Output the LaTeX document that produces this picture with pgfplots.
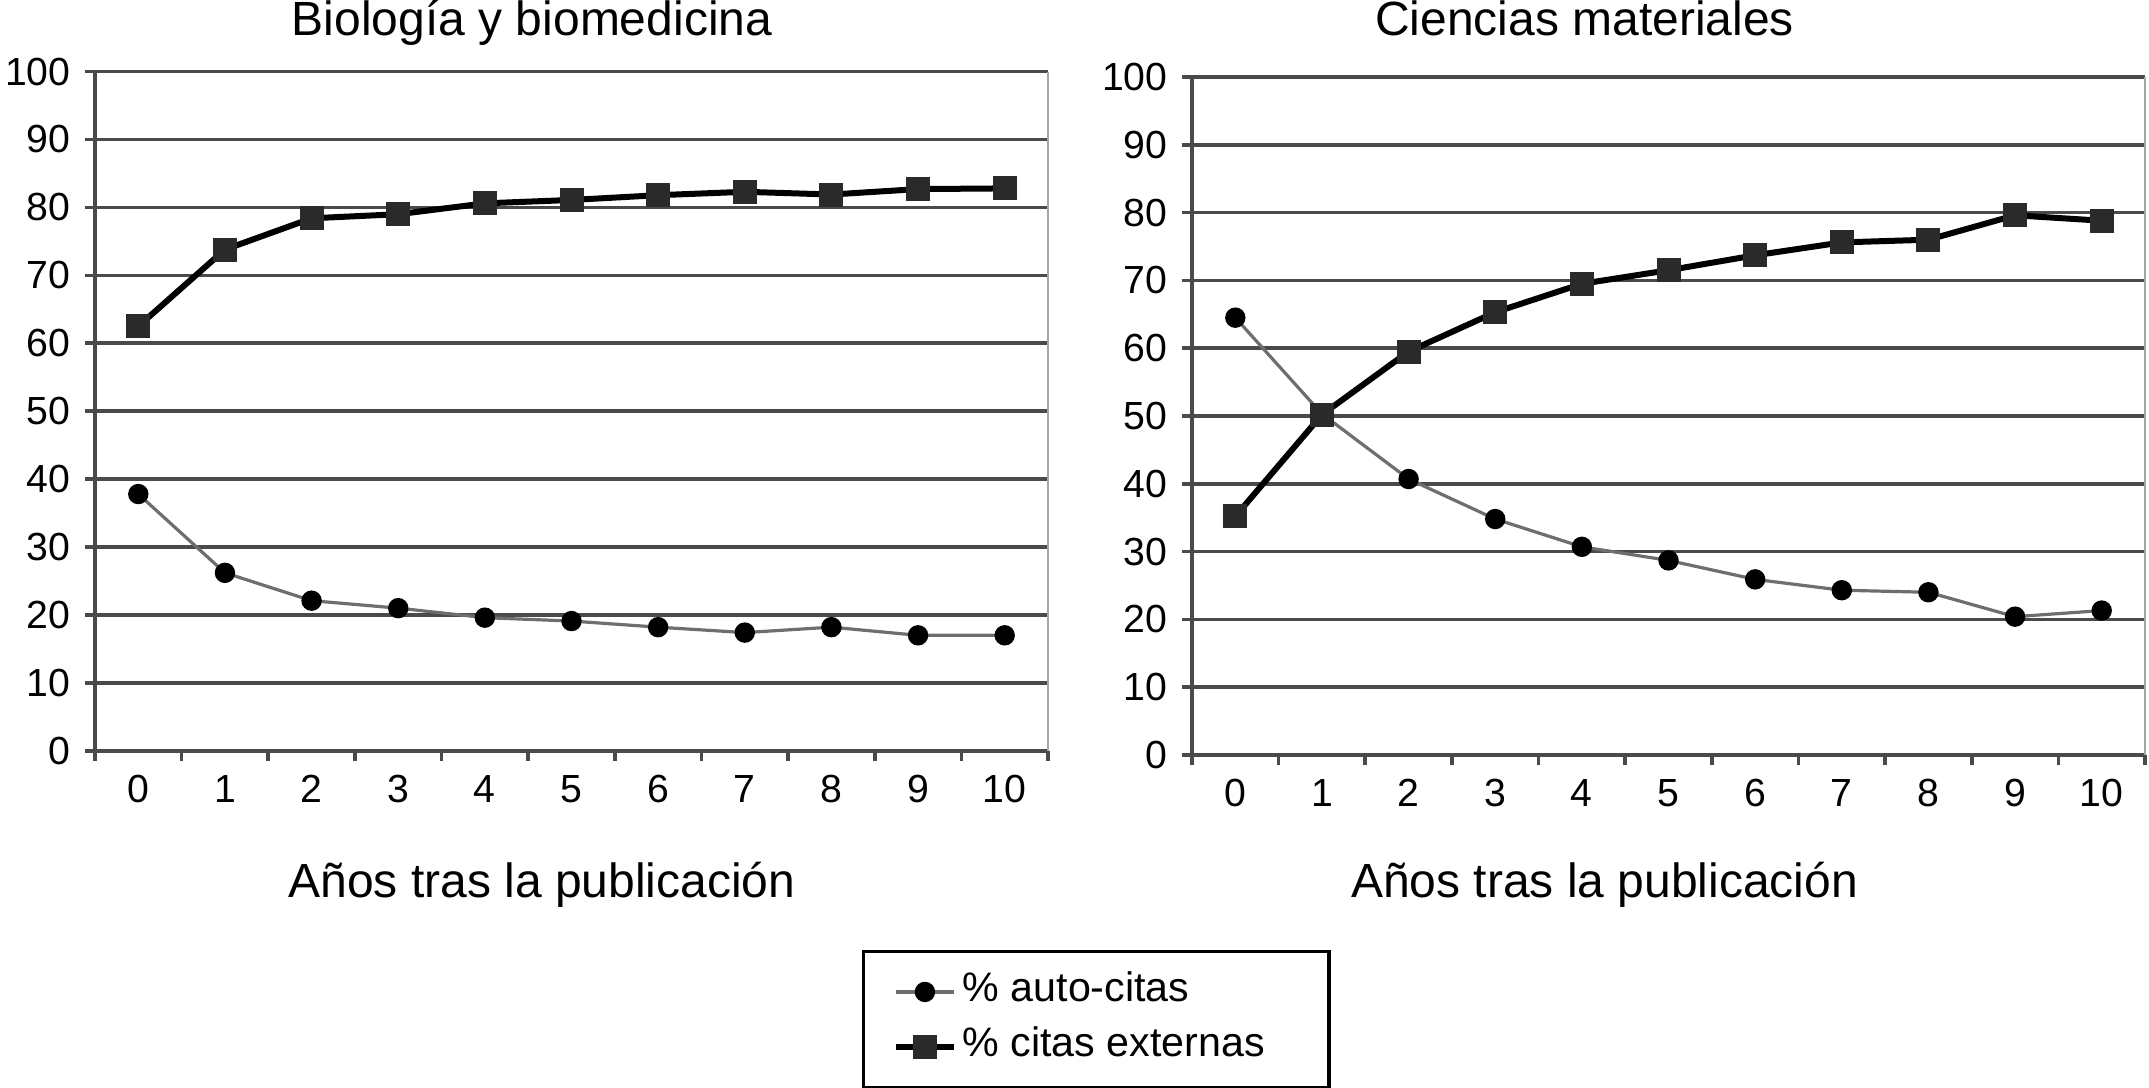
\documentclass[border=0pt]{standalone}
\usepackage{fontspec}
\setmainfont{Liberation Sans}
\usepackage{pgfplots}
\pgfplotsset{compat=1.18}
\definecolor{gridc}{HTML}{4A4A4A}
\definecolor{autoc}{HTML}{6E6E6E}
\definecolor{sqc}{HTML}{2A2A2A}

\pgfplotsset{
  base/.style={
    scale only axis, width=238.25pt,
    xmin=-0.5, xmax=10.5, ymin=0, ymax=100,
    axis lines=left, axis line style={-, gridc, line width=0.9pt},
    xtick={-0.5,0.5,...,10.5}, x tick label as interval,
    xticklabels={0,1,2,3,4,5,6,7,8,9,10},
    ytick={0,10,...,100},
    ymajorgrids, grid style={gridc, line width=0.9pt},
    tick align=outside, major tick length=2.6pt,
    tick style={gridc, line width=0.9pt},
    ticklabel style={font=\fontsize{9.8}{11}\selectfont},
    /pgf/number format/assume math mode=true,
    title style={font=\fontsize{12}{14}\selectfont, anchor=base},
    xlabel style={font=\fontsize{12}{14}\selectfont, anchor=base},
    clip=false,
  },
  autos/.style={autoc, line width=0.8pt, mark=*, mark size=2.35pt, mark options={black, fill=black, line width=0.4pt}},
  exts/.style={black, line width=1.5pt, mark=square*, mark size=2.8pt, mark options={sqc, fill=sqc, line width=0.4pt}},
}

\begin{document}
\begin{tikzpicture}
\path[use as bounding box] (0,0) rectangle (537.25pt,272pt);

\begin{axis}[base, height=169.8pt, at={(23.75pt,84.3pt)}, anchor=south west,
  title={Biología y biomedicina},
  title style={at={(axis description cs:0.4586,1)}, yshift=2.9pt},
  xlabel={Años tras la publicación},
  xlabel style={at={(axis description cs:0.469,0)}, yshift=-36.8pt},
  legend style={at={(axis description cs:0.806,-0.2956)}, anchor=north west,
    draw=black, line width=0.8pt, outer sep=0pt, inner xsep=7.5pt, inner ysep=4.1pt,
    row sep=1.75pt, column sep=0pt,
    nodes={inner sep=1.5pt, text height=7pt, text depth=2pt},
    cells={anchor=west}, font=\fontsize{10.3}{12}\selectfont},
  legend image code/.code={\draw[mark repeat=2,mark phase=2,#1] plot coordinates {(0pt,0pt) (7.2pt,0pt) (14.4pt,0pt)};},
]
\draw[black!35, line width=0.6pt] (rel axis cs:1,0) -- (rel axis cs:1,1);
\addplot[autos] coordinates {(0,37.8)(1,26.2)(2,22.1)(3,21)(4,19.6)(5,19.1)(6,18.2)(7,17.4)(8,18.2)(9,17)(10,17)};
\addlegendentry{\% auto-citas}
\addplot[exts] coordinates {(0,62.5)(1,73.8)(2,78.4)(3,79)(4,80.6)(5,81.1)(6,81.8)(7,82.3)(8,81.9)(9,82.7)(10,82.8)};
\addlegendentry{\% citas externas\hspace*{7pt}}
\end{axis}

\begin{axis}[base, height=169.5pt, at={(298pt,83.25pt)}, anchor=south west,
  title={Ciencias materiales},
  title style={at={(axis description cs:0.412,1)}, yshift=4.25pt},
  xlabel={Años tras la publicación},
  xlabel style={at={(axis description cs:0.433,0)}, yshift=-35.75pt},
]
\draw[black!35, line width=0.6pt] (rel axis cs:1,0) -- (rel axis cs:1,1);
\addplot[autos] coordinates {(0,64.5)(1,50.3)(2,40.7)(3,34.8)(4,30.7)(5,28.7)(6,25.9)(7,24.3)(8,24)(9,20.4)(10,21.3)};
\addplot[exts] coordinates {(0,35.2)(1,50.2)(2,59.5)(3,65.3)(4,69.5)(5,71.5)(6,73.7)(7,75.6)(8,76)(9,79.6)(10,78.8)};
\end{axis}
\end{tikzpicture}
\end{document}
